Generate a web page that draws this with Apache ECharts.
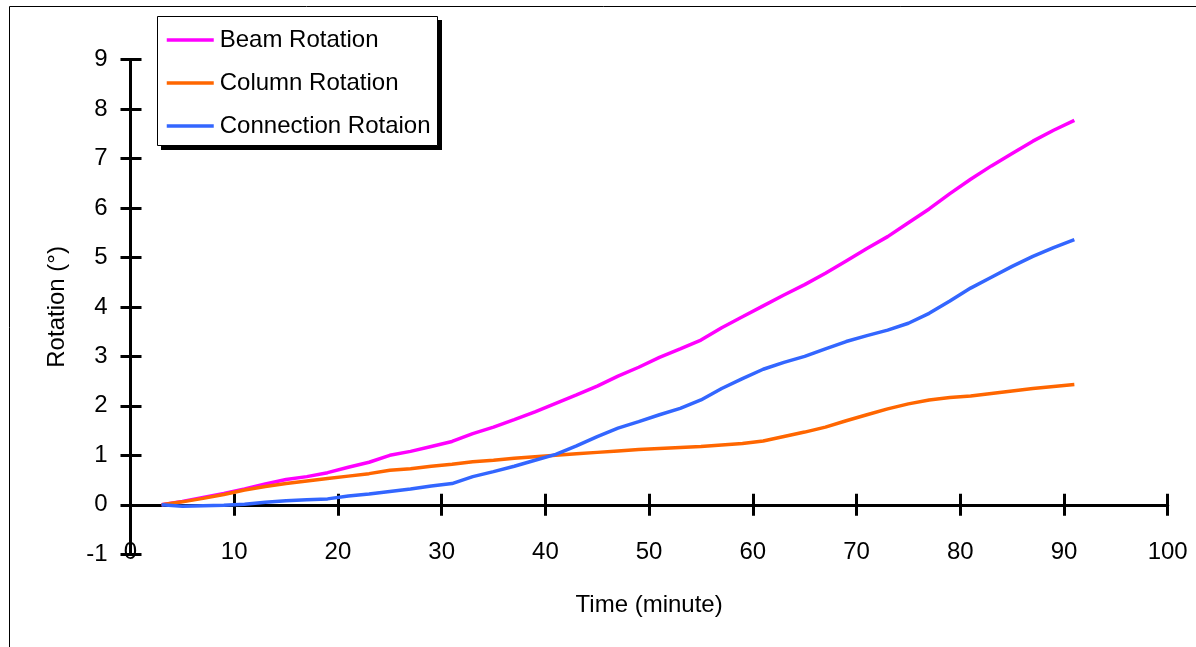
<!DOCTYPE html>
<html>
<head>
<meta charset="utf-8">
<script src="https://cdn.jsdelivr.net/npm/echarts@6/dist/echarts.min.js"></script>
<style>
  html, body { margin: 0; padding: 0; background: #fff; }
  #chart { width: 1196px; height: 647px; }
</style>
</head>
<body>
<div id="chart"></div>
<script>
// time samples (minute)
const minutes = [3, 5, 7, 9, 11, 13, 15, 17, 19, 21, 23, 25, 27, 29, 31, 33, 35, 37, 39, 41, 43, 45,
  47, 49, 51, 53, 55, 57, 59, 61, 63, 65, 67, 69, 71, 73, 75, 77, 79, 81, 83, 85, 87, 89, 91];

const beamRotation = [0.00, 0.07, 0.15, 0.23, 0.32, 0.42, 0.51, 0.57, 0.65, 0.76, 0.86, 1.00, 1.08,
  1.18, 1.28, 1.44, 1.57, 1.72, 1.88, 2.05, 2.22, 2.40, 2.60, 2.78, 2.98, 3.15, 3.33, 3.58, 3.80,
  4.02, 4.24, 4.45, 4.68, 4.93, 5.18, 5.42, 5.70, 5.98, 6.29, 6.58, 6.85, 7.10, 7.35, 7.57, 7.77];

const columnRotation = [0.00, 0.06, 0.13, 0.21, 0.30, 0.37, 0.43, 0.48, 0.53, 0.58, 0.63, 0.70, 0.73,
  0.78, 0.82, 0.87, 0.90, 0.94, 0.97, 1.00, 1.03, 1.06, 1.09, 1.12, 1.14, 1.16, 1.18, 1.21, 1.24,
  1.29, 1.38, 1.47, 1.57, 1.70, 1.82, 1.94, 2.04, 2.12, 2.17, 2.20, 2.25, 2.30, 2.35, 2.39, 2.43];

const connectionRotation = [0.00, -0.03, -0.02, -0.01, 0.01, 0.05, 0.08, 0.10, 0.12, 0.18, 0.22, 0.27,
  0.32, 0.38, 0.43, 0.57, 0.67, 0.78, 0.90, 1.02, 1.19, 1.38, 1.55, 1.68, 1.82, 1.95, 2.12, 2.35,
  2.55, 2.74, 2.88, 3.00, 3.15, 3.30, 3.42, 3.53, 3.67, 3.87, 4.12, 4.38, 4.60, 4.82, 5.02, 5.20, 5.36];

const seriesNames = ["Beam Rotation", "Column Rotation", "Connection Rotaion"];
const colors = ["#ff00ff", "#ff6600", "#3366ff"];

const font = "'Liberation Sans', Arial, sans-serif";
const black = "#000";

let pairs = (ys) => minutes.map((m, i) => [m, ys[i]]);

let chart = echarts.init(document.getElementById("chart"), null, { renderer: "canvas" });

let axisText = { color: black, fontFamily: font, fontSize: 24 };

let option = {
  animation: false,
  color: colors,
  textStyle: { fontFamily: font },
  grid: {
    left: 130.5, right: 28.3, top: 59.5, bottom: 92.7,
    containLabel: false,
    outerBoundsMode: "none",
  },

  legend: {
    orient: "vertical",
    left: 157,
    top: 16,
    padding: [12, 10, 10, 8],
    itemWidth: 47,
    itemHeight: 28,
    itemGap: 19,
    itemStyle: { color: "rgba(0,0,0,0)", opacity: 0, borderWidth: 0 },
    lineStyle: { width: 3.5 },
    textStyle: { color: black, fontFamily: font, fontSize: 24, padding: [0, 0, 0, 1] },
    data: seriesNames,
    z: 6,
  },

  xAxis: [
    {
      type: "value",
      min: 0,
      max: 100,
      interval: 10,
      name: "Time (minute)",
      nameLocation: "middle",
      nameGap: 39,
      nameTextStyle: axisText,
      axisLine: { onZero: true, onZeroAxisIndex: 0, lineStyle: { color: black, width: 3 } },
      axisTick: { show: true, length: 11, lineStyle: { color: black, width: 3 } },
      axisLabel: Object.assign({ margin: -14 }, axisText),
      splitLine: { show: false },
    },
    {
      // ticks on the upper side of the zero line
      type: "value",
      min: 0,
      max: 100,
      interval: 10,
      position: "bottom",
      axisLine: { show: false, onZero: true, onZeroAxisIndex: 0 },
      axisTick: { show: true, inside: true, length: 11, lineStyle: { color: black, width: 3 } },
      axisLabel: { show: false },
      splitLine: { show: false },
    },
  ],

  yAxis: [
    {
      type: "value",
      min: -1,
      max: 9,
      interval: 1,
      name: "Rotation (°)",
      nameLocation: "middle",
      nameGap: 61,
      nameRotate: 90,
      nameTextStyle: axisText,
      axisLine: { show: true, onZero: false, lineStyle: { color: black, width: 3 } },
      axisTick: { show: true, length: 10, lineStyle: { color: black, width: 3 } },
      axisLabel: Object.assign({ margin: 23 }, axisText),
      splitLine: { show: false },
    },
    {
      type: "value",
      min: -1,
      max: 9,
      interval: 1,
      position: "left",
      axisLine: { show: false, onZero: false },
      axisTick: { show: true, inside: true, length: 11, lineStyle: { color: black, width: 3 } },
      axisLabel: { show: false },
      splitLine: { show: false },
    },
  ],

  series: [beamRotation, columnRotation, connectionRotation].map((ys, i) => ({
    name: seriesNames[i],
    type: "line",
    data: pairs(ys),
    symbol: "none",
    smooth: false,
    lineStyle: { width: 3.5, color: colors[i] },
    itemStyle: { color: colors[i] },
    z: 3,
  })),

  graphic: [
    {
      // frame of the chart area (cropped on right and bottom)
      type: "rect",
      silent: true,
      z: -10,
      shape: { x: 9.5, y: 6.5, width: 1400, height: 900 },
      style: { fill: null, stroke: "#000", lineWidth: 1 },
    },
    {
      // legend box shadow
      type: "rect",
      silent: true,
      z: 4,
      shape: { x: 161, y: 20, width: 281, height: 130 },
      style: { fill: "#000" },
    },
    {
      // legend box
      type: "rect",
      silent: true,
      z: 5,
      shape: { x: 157.5, y: 16.5, width: 280, height: 129 },
      style: { fill: "#fff", stroke: "#000", lineWidth: 1 },
    },
  ],
};

chart.setOption(option);
</script>
</body>
</html>
